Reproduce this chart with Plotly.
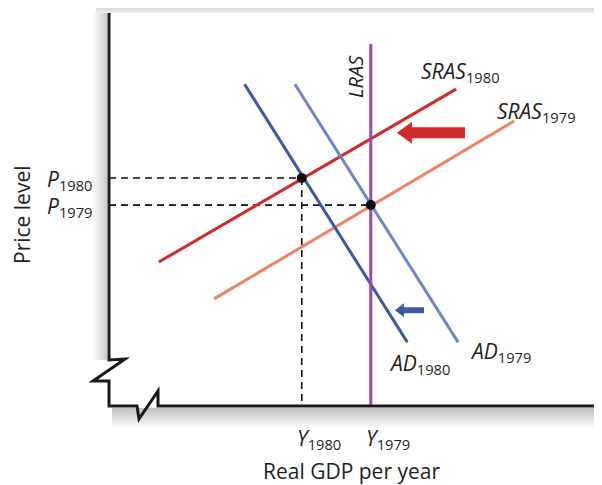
import plotly.graph_objects as go

# ---------------- data (model units: real GDP on x, price level on y) ----------------
ad1980_x = [27.5, 60.5]
ad1980_y = [65.5, 13.0]
ad1979_x = [37.7, 70.8]
ad1979_y = [65.5, 13.0]
sras1980_x = [10.1, 70.4]
sras1980_y = [29.3, 64.5]
sras1979_x = [21.3, 82.2]
sras1979_y = [21.8, 58.0]
lras_x = [53.1, 53.1]
lras_y = [0.0, 73.7]
eq_x = [39.1, 53.1]          # Y1980, Y1979
eq_y = [46.4, 40.9]          # P1980, P1979
eq_names = ["1980", "1979"]
red_shift = dict(tail=72.2, tip=58.4, y=55.6)   # SRAS shift arrow
blue_shift = dict(tail=63.9, tip=58.0, y=19.5)  # AD shift arrow

# ---------------- geometry helpers ----------------
PAGE_W, PAGE_H = 602, 485
OFF = 8                     # default page margin around the figure
W, H = PAGE_W - OFF, PAGE_H - OFF
X0, Y0 = 109, 406           # page-pixel position of the origin
SX, SY = 4.93, 4.9125       # pixels per unit


def P(xp, yp):
    """page pixel -> data coordinates (layout helper)"""
    return ((xp - X0) / SX, (Y0 - yp) / SY)


xr = [P(OFF, 0)[0], P(PAGE_W, 0)[0]]
yr = [P(0, PAGE_H)[1], P(0, OFF)[1]]

FONT = "Open Sans"
BLUE_D = "#3b5aa3"
BLUE_L = "#6d86c6"
RED = "#d12a2b"
SALMON = "#ef8262"
PURPLE = "#a046b4"

fig = go.Figure()

shapes = []


def rect_px(x0, y0, x1, y1, color):
    a = P(x0, y0)
    b = P(x1, y1)
    shapes.append(dict(type="rect", xref="x", yref="y", x0=a[0], y0=a[1], x1=b[0], y1=b[1],
                       fillcolor=color, line=dict(width=0), layer="below"))


# ---- drop shadows of the frame ----
for i in range(13):
    alpha = 0.28 - 0.017 * i
    rect_px(96, i, PAGE_W + 2, i + 1, f"rgba(0,0,0,{alpha:.3f})")
for i in range(14):
    alpha = 0.02 + 0.014 * i
    rect_px(93 + i, 13, 94 + i, 360, f"rgba(0,0,0,{alpha:.3f})")
for i in range(20):
    alpha = 0.24 - 0.012 * i
    rect_px(112, 408 + i, PAGE_W + 2, 409 + i, f"rgba(0,0,0,{alpha:.3f})")
rect_px(109, 13, PAGE_W + 2, 406, "white")

# ---- axes with break marks ----
axis_px = [(109, 13), (109, 360), (125, 359), (93, 381), (109, 381), (109, 406),
           (137, 406), (139, 419), (158, 391), (158, 406), (PAGE_W + 5, 406)]
pts = [P(*p) for p in axis_px]
path = "M " + " L ".join(f"{x:.3f},{y:.3f}" for x, y in pts)
shapes.append(dict(type="path", xref="x", yref="y", path=path,
                   line=dict(color="#1a1a1a", width=3), layer="above"))


# ---- shift arrows ----
def arrow(d, color, body_px, head_len_px, head_half_px):
    y = d["y"]
    bh = body_px / SY
    hh = head_half_px / SY
    hl = head_len_px / SX
    back = d["tip"] + hl
    pts = [(d["tail"], y + bh), (back, y + bh), (back, y + hh), (d["tip"], y),
           (back, y - hh), (back, y - bh), (d["tail"], y - bh)]
    p = "M " + " L ".join(f"{a:.3f},{b:.3f}" for a, b in pts) + " Z"
    shapes.append(dict(type="path", xref="x", yref="y", path=p, fillcolor=color,
                       line=dict(width=0), layer="above"))


arrow(red_shift, RED, 5.5, 15, 11)
arrow(blue_shift, BLUE_D, 3, 9, 7)

# ---- dashed guide lines ----
dash = "7px,5px"
for x, y in zip(eq_x, eq_y):
    fig.add_trace(go.Scatter(x=[0, x], y=[y, y], mode="lines",
                             line=dict(color="#111", width=1.6, dash=dash),
                             hoverinfo="skip", showlegend=False))
fig.add_trace(go.Scatter(x=[eq_x[0], eq_x[0]], y=[eq_y[0], 0], mode="lines",
                         line=dict(color="#111", width=1.6, dash=dash),
                         hoverinfo="skip", showlegend=False))

# ---- curves ----
for xs, ys, c in [(sras1979_x, sras1979_y, SALMON), (sras1980_x, sras1980_y, RED),
                  (ad1979_x, ad1979_y, BLUE_L), (ad1980_x, ad1980_y, BLUE_D),
                  (lras_x, lras_y, PURPLE)]:
    fig.add_trace(go.Scatter(x=xs, y=ys, mode="lines", line=dict(color=c, width=3),
                             hoverinfo="skip", showlegend=False))

fig.add_trace(go.Scatter(x=eq_x, y=eq_y, mode="markers",
                         marker=dict(color="#111", size=10),
                         hoverinfo="skip", showlegend=False))

# ---- labels ----
ann = []


def label(xp, yp, text, size=21, angle=0, xanchor="center", color="#231f20"):
    x, y = P(xp, yp)
    ann.append(dict(x=x, y=y, xref="x", yref="y", text=text, showarrow=False,
                    textangle=angle, xanchor=xanchor, yanchor="middle",
                    font=dict(family=FONT, size=size, color=color)))


label(355, 77, "<i>LRAS</i>", size=20, angle=-90)
label(460, 72, "<i>SRAS</i><sub>1980</sub>")
label(536, 112, "<i>SRAS</i><sub>1979</sub>")
label(419, 364, "<i>AD</i><sub>1980</sub>")
label(500, 352, "<i>AD</i><sub>1979</sub>")
for x, y, n in zip(eq_x, eq_y, eq_names):
    label(45, Y0 - y * SY + 2, f"<i>P</i><sub>{n}</sub>", xanchor="left")
    label(X0 + x * SX + 17, 439, f"<i>Y</i><sub>{n}</sub>")
label(351, 471, "Real GDP per year")
label(22, 215, "Price level", angle=-90)

fig.update_layout(
    width=W, height=H,
    margin=dict(l=0, r=0, t=0, b=0),
    paper_bgcolor="white", plot_bgcolor="white",
    xaxis=dict(range=xr, visible=False, fixedrange=True),
    yaxis=dict(range=yr, visible=False, fixedrange=True),
    shapes=shapes, annotations=ann, showlegend=False,
)

fig.write_html("out.html")
